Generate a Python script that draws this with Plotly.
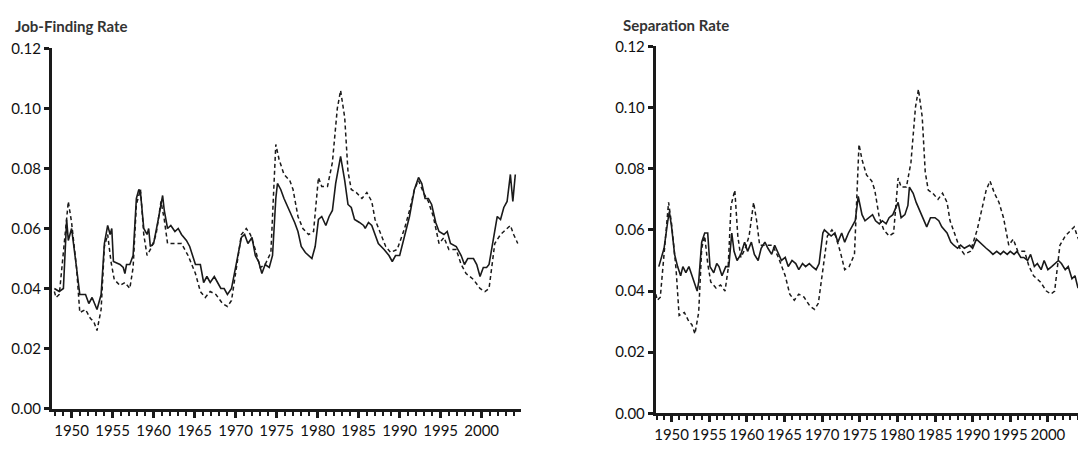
import plotly.graph_objects as go

# ---- Data ----
# Job-finding rate (solid, left panel)
jf_years = [1947.9, 1948.5, 1949.0, 1949.4, 1949.6, 1950.0, 1950.6, 1951.0, 1951.7, 1952.1,
            1952.5, 1952.8, 1953.1, 1953.6, 1954.0, 1954.4, 1954.7, 1954.9, 1955.1, 1955.9,
            1956.3, 1956.5, 1956.7, 1957.1, 1957.5, 1957.9, 1958.2, 1958.4, 1958.8, 1959.2,
            1959.4, 1959.6, 1960.0, 1960.5, 1961.1, 1961.3, 1961.7, 1962.1, 1962.6, 1963.0,
            1963.4, 1964.0, 1964.4, 1965.1, 1965.7, 1966.1, 1966.5, 1966.9, 1967.4, 1967.8,
            1968.2, 1968.6, 1969.0, 1969.5, 1970.1, 1970.7, 1971.1, 1971.5, 1972.0, 1972.4,
            1972.8, 1973.2, 1973.6, 1974.1, 1974.5, 1974.9, 1975.1, 1975.5, 1975.9, 1976.4,
            1976.8, 1977.2, 1977.6, 1978.0, 1978.5, 1978.9, 1979.3, 1979.7, 1980.1, 1980.5,
            1981.0, 1981.4, 1981.8, 1982.2, 1982.8, 1983.3, 1983.7, 1984.1, 1984.5, 1985.1,
            1985.6, 1985.8, 1986.2, 1986.6, 1987.0, 1987.4, 1988.1, 1988.7, 1989.1, 1989.5,
            1990.0, 1990.6, 1991.2, 1991.8, 1992.3, 1992.7, 1993.1, 1993.5, 1993.9, 1994.4,
            1994.8, 1995.4, 1995.8, 1996.2, 1996.9, 1997.5, 1997.9, 1998.3, 1999.0, 1999.4,
            1999.8, 2000.2, 2000.6, 2000.9, 2001.5, 2001.9, 2002.3, 2002.7, 2003.1, 2003.5,
            2003.8, 2004.1]
jf_values = [0.040, 0.039, 0.040, 0.063, 0.056, 0.060, 0.047, 0.038, 0.038, 0.035,
             0.037, 0.035, 0.033, 0.038, 0.055, 0.061, 0.058, 0.060, 0.049, 0.048,
             0.047, 0.045, 0.048, 0.048, 0.051, 0.070, 0.073, 0.072, 0.060, 0.058,
             0.060, 0.054, 0.055, 0.062, 0.071, 0.066, 0.060, 0.061, 0.059, 0.060,
             0.058, 0.056, 0.054, 0.048, 0.048, 0.042, 0.044, 0.042, 0.044, 0.042,
             0.040, 0.040, 0.038, 0.040, 0.048, 0.057, 0.058, 0.055, 0.057, 0.051,
             0.049, 0.045, 0.048, 0.047, 0.051, 0.070, 0.075, 0.073, 0.070, 0.067,
             0.065, 0.062, 0.059, 0.054, 0.052, 0.051, 0.050, 0.054, 0.063, 0.064,
             0.061, 0.064, 0.066, 0.075, 0.084, 0.076, 0.068, 0.067, 0.063, 0.062,
             0.061, 0.060, 0.062, 0.061, 0.058, 0.055, 0.053, 0.051, 0.049, 0.051,
             0.051, 0.058, 0.064, 0.073, 0.077, 0.075, 0.070, 0.070, 0.068, 0.062,
             0.059, 0.058, 0.059, 0.055, 0.054, 0.051, 0.048, 0.050, 0.050, 0.048,
             0.044, 0.047, 0.047, 0.048, 0.058, 0.064, 0.063, 0.067, 0.069, 0.078,
             0.069, 0.078]

# Unemployment rate (dashed, both panels)
ur_years = [1947.9, 1948.1, 1948.5, 1949.6, 1950.0, 1950.6, 1951.0, 1951.7, 1952.3, 1952.7,
            1953.1, 1953.6, 1954.0, 1954.4, 1954.8, 1955.2, 1955.9, 1956.5, 1957.1, 1957.5,
            1957.9, 1958.4, 1958.8, 1959.2, 1959.8, 1960.3, 1960.9, 1961.3, 1961.7, 1962.6,
            1963.4, 1964.2, 1965.1, 1965.7, 1966.3, 1966.9, 1967.6, 1968.4, 1969.0, 1969.5,
            1970.1, 1970.7, 1971.3, 1971.8, 1972.4, 1973.0, 1973.6, 1974.3, 1974.9, 1975.3,
            1975.9, 1976.6, 1977.0, 1977.6, 1978.2, 1978.9, 1979.5, 1980.1, 1980.5, 1981.2,
            1981.8, 1982.4, 1982.8, 1983.3, 1983.7, 1984.1, 1984.7, 1985.4, 1986.0, 1986.6,
            1987.0, 1987.7, 1988.3, 1988.9, 1989.7, 1990.6, 1991.2, 1991.8, 1992.3, 1992.9,
            1993.5, 1994.1, 1994.8, 1995.4, 1996.0, 1996.9, 1997.5, 1998.1, 1999.0, 1999.8,
            2000.4, 2000.9, 2001.6, 2002.3, 2003.1, 2003.5, 2003.9, 2004.4]
ur_values = [0.039, 0.037, 0.038, 0.069, 0.062, 0.047, 0.032, 0.033, 0.030, 0.029,
             0.026, 0.033, 0.054, 0.058, 0.049, 0.043, 0.041, 0.042, 0.040, 0.047,
             0.068, 0.073, 0.058, 0.051, 0.054, 0.058, 0.069, 0.063, 0.055, 0.055,
             0.055, 0.051, 0.045, 0.039, 0.037, 0.039, 0.038, 0.035, 0.034, 0.036,
             0.047, 0.058, 0.060, 0.058, 0.053, 0.047, 0.048, 0.052, 0.088, 0.083,
             0.078, 0.076, 0.073, 0.064, 0.060, 0.058, 0.059, 0.077, 0.074, 0.074,
             0.082, 0.100, 0.106, 0.097, 0.079, 0.073, 0.072, 0.070, 0.072, 0.069,
             0.063, 0.058, 0.054, 0.052, 0.053, 0.060, 0.066, 0.073, 0.076, 0.072,
             0.069, 0.064, 0.055, 0.057, 0.053, 0.053, 0.048, 0.045, 0.043, 0.040,
             0.039, 0.040, 0.055, 0.058, 0.060, 0.061, 0.058, 0.055]

# Separation rate (solid, right panel)
sep_years = [1948.3, 1949.0, 1949.5, 1949.7, 1950.0, 1950.4, 1950.8, 1951.2, 1951.5, 1951.9,
             1952.3, 1952.6, 1953.1, 1953.4, 1953.6, 1954.0, 1954.4, 1954.8, 1955.1, 1955.6,
             1956.0, 1956.3, 1956.7, 1957.2, 1957.6, 1958.0, 1958.3, 1958.7, 1959.2, 1959.7,
             1960.1, 1960.6, 1961.0, 1961.5, 1961.9, 1962.4, 1962.8, 1963.3, 1963.7, 1964.2,
             1964.6, 1965.1, 1965.5, 1966.0, 1966.5, 1966.9, 1967.4, 1967.8, 1968.3, 1968.7,
             1969.2, 1969.6, 1970.1, 1970.3, 1970.8, 1971.2, 1971.7, 1972.1, 1972.6, 1973.0,
             1973.5, 1973.9, 1974.4, 1974.8, 1975.3, 1975.7, 1976.2, 1976.7, 1977.1, 1977.6,
             1978.0, 1978.5, 1978.9, 1979.4, 1980.1, 1980.5, 1981.0, 1981.4, 1981.6, 1982.1,
             1982.5, 1983.0, 1983.5, 1983.9, 1984.4, 1985.0, 1985.5, 1985.9, 1986.6, 1987.1,
             1987.5, 1988.0, 1988.4, 1988.9, 1989.6, 1990.0, 1990.5, 1990.9, 1991.4, 1991.8,
             1992.3, 1992.7, 1993.2, 1993.7, 1994.1, 1994.6, 1995.0, 1995.5, 1995.9, 1996.4,
             1996.8, 1997.3, 1997.7, 1998.2, 1998.6, 1999.1, 1999.5, 2000.0, 2000.5, 2000.9,
             2001.4, 2001.8, 2002.3, 2002.7, 2003.2, 2003.6, 2004.0, 2004.3]
sep_values = [0.048, 0.054, 0.063, 0.066, 0.061, 0.052, 0.048, 0.045, 0.048, 0.046,
              0.048, 0.046, 0.042, 0.040, 0.043, 0.056, 0.059, 0.059, 0.048, 0.046,
              0.049, 0.048, 0.045, 0.048, 0.048, 0.059, 0.053, 0.050, 0.052, 0.056,
              0.053, 0.056, 0.052, 0.050, 0.054, 0.056, 0.054, 0.052, 0.055, 0.052,
              0.050, 0.051, 0.048, 0.050, 0.049, 0.047, 0.049, 0.048, 0.049, 0.048,
              0.047, 0.049, 0.059, 0.060, 0.059, 0.058, 0.059, 0.056, 0.059, 0.056,
              0.059, 0.061, 0.063, 0.071, 0.065, 0.063, 0.064, 0.065, 0.063, 0.062,
              0.063, 0.062, 0.064, 0.065, 0.069, 0.064, 0.065, 0.068, 0.074, 0.072,
              0.069, 0.066, 0.063, 0.061, 0.064, 0.064, 0.063, 0.061, 0.059, 0.056,
              0.055, 0.054, 0.055, 0.054, 0.055, 0.054, 0.057, 0.056, 0.055, 0.054,
              0.053, 0.052, 0.053, 0.052, 0.053, 0.052, 0.053, 0.052, 0.053, 0.051,
              0.051, 0.050, 0.052, 0.048, 0.049, 0.047, 0.050, 0.047, 0.048, 0.049,
              0.050, 0.049, 0.047, 0.048, 0.044, 0.045, 0.041, 0.042]

panel_titles = ["Job-Finding Rate", "Separation Rate"]
y_tick_vals = [0.00, 0.02, 0.04, 0.06, 0.08, 0.10, 0.12]
y_tick_text = ["0.00", "0.02", "0.04", "0.06", "0.08", "0.10", "0.12"]
x_tick_vals = [1950, 1955, 1960, 1965, 1970, 1975, 1980, 1985, 1990, 1995, 2000]
x_tick_text = [str(v) for v in x_tick_vals]

# ---- Figure ----
W, H = 1078, 454
INK = "#1a1a1a"
FONT = "Lato"

fig = go.Figure()
solid = dict(color=INK, width=1.6)
dashed = dict(color=INK, width=1.5, dash="4px,3px")

fig.add_trace(go.Scatter(x=ur_years, y=ur_values, mode="lines", line=dashed,
                         xaxis="x", yaxis="y", showlegend=False))
fig.add_trace(go.Scatter(x=jf_years, y=jf_values, mode="lines", line=solid,
                         xaxis="x", yaxis="y", showlegend=False))
fig.add_trace(go.Scatter(x=ur_years, y=ur_values, mode="lines", line=dashed,
                         xaxis="x2", yaxis="y2", showlegend=False))
fig.add_trace(go.Scatter(x=sep_years, y=sep_values, mode="lines", line=solid,
                         xaxis="x2", yaxis="y2", showlegend=False))

tickfont = dict(family=FONT, size=15, color="#111111")

def xaxis_cfg(domain, rng, anchor):
    return dict(domain=domain, range=rng, anchor=anchor,
                showline=True, linewidth=3, linecolor=INK,
                showgrid=False, zeroline=False,
                ticks="outside", ticklen=6, tickwidth=2.5, tickcolor=INK,
                tickvals=x_tick_vals, ticktext=x_tick_text,
                minor=dict(ticks="outside", dtick=1, tick0=1950, ticklen=4,
                           tickwidth=1.6, tickcolor=INK, showgrid=False),
                tickfont=tickfont, fixedrange=True)

def yaxis_cfg(domain, anchor):
    return dict(domain=domain, range=[0, 0.12], anchor=anchor,
                showline=True, linewidth=3, linecolor=INK,
                showgrid=False, zeroline=False,
                ticks="outside", ticklen=5, tickwidth=3, tickcolor=INK,
                tickvals=y_tick_vals, ticktext=y_tick_text,
                tickfont=tickfont, fixedrange=True)

fig.update_layout(
    width=W, height=H, autosize=False,
    margin=dict(l=0, r=0, t=0, b=0),
    paper_bgcolor="white", plot_bgcolor="white",
    xaxis=xaxis_cfg([50 / W, 520 / W], [1947.6, 2004.8], "y"),
    yaxis=yaxis_cfg([1 - 415 / H, 1 - 40 / H], "x"),
    xaxis2=xaxis_cfg([655 / W, 1.0], [1947.9, 2004.0], "y2"),
    yaxis2=yaxis_cfg([1 - 420 / H, 1 - 38 / H], "x2"),
    annotations=[
        dict(text=panel_titles[0], xref="paper", yref="paper",
             x=11 / W, y=1 - 17 / H, xanchor="left", yanchor="middle",
             showarrow=False, font=dict(family=FONT, size=15, color="#333333", weight="bold")),
        dict(text=panel_titles[1], xref="paper", yref="paper",
             x=620 / W, y=1 - 16 / H, xanchor="left", yanchor="middle",
             showarrow=False, font=dict(family=FONT, size=15, color="#333333", weight="bold")),
    ],
)

fig.write_html("out.html", config={"displayModeBar": False},
               post_script="document.body.style.margin='0';document.body.style.overflow='hidden';")
